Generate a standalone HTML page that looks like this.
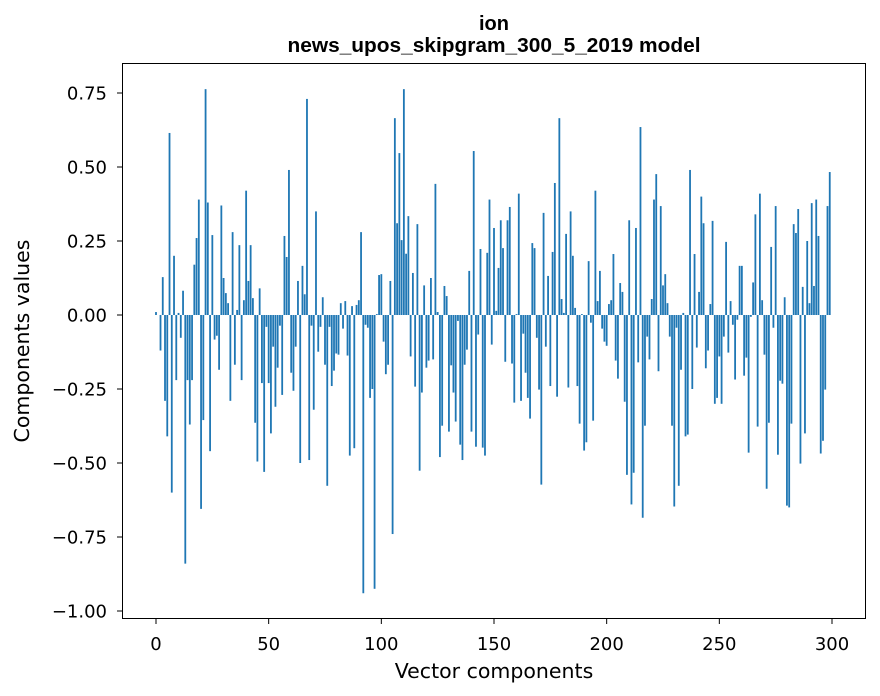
<!DOCTYPE html>
<html><head><meta charset="utf-8"><style>
html,body{margin:0;padding:0;background:#fff;}
svg{display:block;font-family:"DejaVu Sans",sans-serif;}
</style></head><body>
<svg id="chart" width="880" height="696" viewBox="0 0 880 696" xmlns="http://www.w3.org/2000/svg">
<rect x="0" y="0" width="880" height="696" fill="#fff"/>
<text x="494" y="30" text-anchor="middle" font-size="20" font-weight="bold" font-family="Liberation Sans, sans-serif">ion</text>
<text x="494" y="52" text-anchor="middle" font-size="20" font-weight="bold" font-family="Liberation Sans, sans-serif" textLength="413" lengthAdjust="spacingAndGlyphs">news_upos_skipgram_300_5_2019 model</text>
<g id="bars"></g>
<g id="xaxis"></g>
<g id="yaxis"></g>
<rect x="122.5" y="63.5" width="743" height="555" fill="none" stroke="#000" stroke-width="1"/>
<text x="494" y="678" text-anchor="middle" font-size="20.5">Vector components</text>
<text transform="translate(29,341) rotate(-90)" text-anchor="middle" font-size="20.5">Components values</text>
</svg>
<script>
const values = [
0.01,0,-0.12,0.128,-0.29,-0.41,0.615,-0.60,0.20,-0.22,
0.007,-0.077,0.082,-0.84,-0.22,-0.37,-0.22,0.17,0.26,0.39,
-0.655,-0.355,0.763,0.38,-0.46,0.27,-0.083,-0.07,-0.185,0.37,
0.125,0.074,0.04,-0.29,0.28,-0.168,0.017,0.236,-0.22,0.05,
0.42,0.115,0.236,0.057,-0.364,-0.495,0.09,-0.23,-0.53,-0.04,
-0.23,-0.40,-0.107,-0.31,-0.178,-0.036,-0.27,0.267,0.196,0.49,
-0.195,-0.256,-0.107,0.115,-0.50,0.166,0.07,0.73,-0.49,-0.036,
-0.32,0.35,-0.124,-0.04,0.06,-0.168,-0.577,-0.04,-0.24,-0.188,
-0.13,-0.134,0.04,-0.046,0.047,-0.137,-0.475,0.03,-0.45,0.034,
0.05,0.28,-0.94,-0.033,-0.043,-0.28,-0.25,-0.925,0.003,0.135,
0.138,-0.09,-0.2,-0.168,0.115,-0.74,0.665,0.31,0.547,0.253,
0.763,0.207,0.334,-0.14,0.142,-0.242,0.307,-0.526,-0.262,0.10,
-0.178,-0.154,0.125,-0.15,0.443,0.01,-0.48,-0.374,0.098,0.064,
-0.394,-0.17,-0.262,-0.36,-0.02,-0.438,-0.49,-0.168,-0.117,0.149,
-0.394,0.554,-0.445,-0.066,0.223,-0.448,-0.475,0.21,0.39,-0.1,
0.294,0.014,0.159,0.32,0.226,-0.158,0.32,0.365,-0.164,-0.296,
0.003,0.41,-0.29,-0.063,-0.195,-0.28,-0.35,0.243,0.226,-0.077,
-0.252,-0.573,0.345,-0.107,0.132,-0.24,0.213,0.446,-0.276,0.665,
0.054,0.007,0.274,-0.245,0.35,0.2,0.024,-0.24,-0.367,0.003,
-0.458,-0.43,0.182,-0.026,-0.357,0.42,0.047,0.149,-0.046,-0.09,
-0.104,0.037,0.05,0.206,-0.154,-0.215,0.108,0.078,-0.293,-0.54,
0.32,-0.64,-0.533,0.294,-0.16,0.635,-0.685,-0.374,-0.073,-0.15,
0.054,0.39,0.476,-0.19,0.368,0.10,0.138,0.04,-0.073,-0.374,
-0.647,-0.043,-0.577,-0.185,0.007,-0.41,-0.404,0.49,-0.25,0.206,
-0.11,0.078,0.40,0.31,-0.18,-0.12,0.037,0.318,-0.30,-0.28,
-0.14,-0.30,-0.073,0.247,-0.127,0.047,-0.033,-0.218,-0.016,0.166,
0.166,-0.205,-0.144,-0.465,-0.006,0.11,0.34,-0.377,0.41,0.05,
-0.134,-0.587,-0.364,0.23,-0.043,0.368,-0.472,-0.222,-0.232,0.06,
-0.644,-0.65,-0.367,0.307,0.277,0.358,-0.502,0.095,-0.40,0.25,
0.04,0.378,0.098,0.39,0.267,-0.468,-0.425,-0.252,0.368,0.483
];
const xTicks = [0,50,100,150,200,250,300];
const yTicks = [-1.00,-0.75,-0.50,-0.25,0.00,0.25,0.50,0.75];
const yTickLabels = ["\u22121.00","\u22120.75","\u22120.50","\u22120.25","0.00","0.25","0.50","0.75"];

const NS = "http://www.w3.org/2000/svg";
const xScale = v => 156 + (832 - 156) * v / 300;
const yScale = v => 315 - 296 * v;
const bw = (xScale(1) - xScale(0)) * 0.8;

const barsG = document.getElementById('bars');
values.forEach((v, i) => {
  const r = document.createElementNS(NS, 'rect');
  const y0 = yScale(0), y1 = yScale(v);
  r.setAttribute('x', xScale(i) - bw / 2);
  r.setAttribute('y', Math.min(y0, y1));
  r.setAttribute('width', bw);
  r.setAttribute('height', Math.abs(y1 - y0));
  r.setAttribute('fill', '#1f77b4');
  
  
  barsG.appendChild(r);
});

const xg = document.getElementById('xaxis');
xTicks.forEach(t => {
  const x = xScale(t);
  const l = document.createElementNS(NS, 'line');
  l.setAttribute('x1', x); l.setAttribute('x2', x);
  l.setAttribute('y1', 619); l.setAttribute('y2', 624);
  l.setAttribute('stroke', '#000');
  
  
  xg.appendChild(l);
  const tx = document.createElementNS(NS, 'text');
  tx.setAttribute('x', x); tx.setAttribute('y', 650);
  tx.setAttribute('text-anchor', 'middle');
  tx.setAttribute('font-size', '18');
  tx.textContent = t;
  
  
  xg.appendChild(tx);
});

const yg = document.getElementById('yaxis');
yTicks.forEach((t, i) => {
  const y = yScale(t);
  const l = document.createElementNS(NS, 'line');
  l.setAttribute('x1', 117); l.setAttribute('x2', 122);
  l.setAttribute('y1', y); l.setAttribute('y2', y);
  l.setAttribute('stroke', '#000');
  
  
  yg.appendChild(l);
  const tx = document.createElementNS(NS, 'text');
  tx.setAttribute('x', 107); tx.setAttribute('y', y + 6.5);
  tx.setAttribute('text-anchor', 'end');
  tx.setAttribute('font-size', '18');
  tx.textContent = yTickLabels[i];
  
  
  yg.appendChild(tx);
});
</script>
</body></html>
